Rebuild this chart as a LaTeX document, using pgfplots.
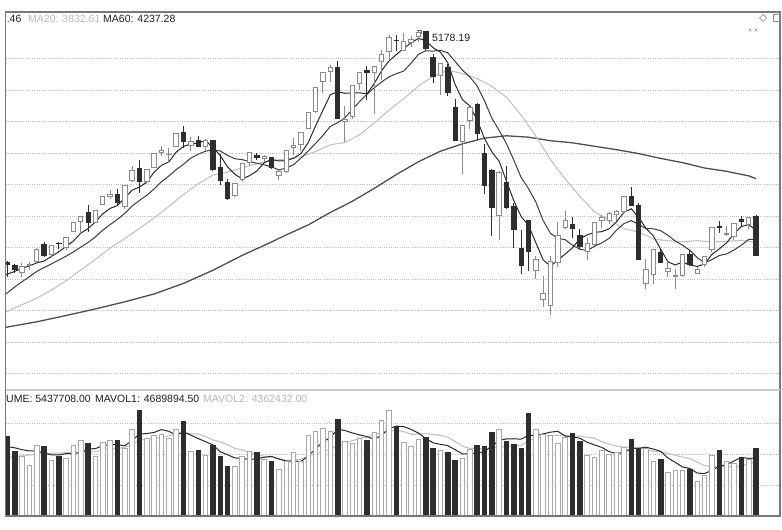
\documentclass[border=0pt]{standalone}
\usepackage{pgfplots}
\pgfplotsset{compat=1.18}
\usepackage{pgfplotstable}
\usepackage{fontspec}
\setmainfont{Liberation Sans}
\definecolor{upc}{HTML}{8A8A8A}
\definecolor{upv}{HTML}{A8A8A8}
\definecolor{dnc}{HTML}{2E2E2E}
\definecolor{mafive}{HTML}{2A2A2A}
\definecolor{maten}{HTML}{3C3C3C}
\definecolor{matwenty}{HTML}{C2C2C2}
\definecolor{masixty}{HTML}{4E4E4E}
\definecolor{gridc}{HTML}{BDBDBD}
\definecolor{framec}{HTML}{777777}
\definecolor{txtlight}{HTML}{B8B8B8}
\pgfdeclareplotmark{nothing}{}

% Daily candles: index, open, high, low, close
\pgfplotstableread{
i O H L C
0 3705 3712 3612 3691
1 3687 3694 3635 3661
2 3642 3700 3614 3682
3 3686 3710 3656 3691
4 3710 3795 3710 3786
5 3822 3835 3742 3748
6 3755 3817 3735 3810
7 3827 3835 3790 3825
8 3803 3864 3784 3863
9 3900 3961 3898 3961
10 3964 4000 3900 3994
11 4026 4069 3900 3957
12 3956 4034 3953 4034
13 4072 4128 4072 4121
14 4125 4168 4106 4135
15 4135 4174 4069 4084
16 4063 4195 4046 4194
17 4226 4317 4214 4287
18 4301 4356 4146 4217
19 4220 4294 4206 4293
20 4307 4398 4307 4398
21 4403 4444 4382 4414
22 4391 4432 4338 4393
23 4441 4529 4441 4527
24 4528 4572 4432 4476
25 4448 4500 4413 4476
26 4483 4507 4436 4441
27 4441 4488 4410 4480
28 4479 4480 4286 4298
29 4311 4391 4197 4229
30 4211 4233 4099 4112
31 4129 4206 4118 4205
32 4230 4333 4217 4333
33 4340 4402 4317 4401
34 4388 4402 4355 4375
35 4363 4389 4342 4378
36 4371 4375 4299 4308
37 4255 4300 4231 4283
38 4285 4417 4275 4417
39 4433 4496 4389 4446
40 4456 4530 4412 4530
41 4558 4658 4552 4657
42 4661 4814 4656 4813
43 4854 4911 4779 4910
44 4917 4958 4850 4941
45 4943 4986 4617 4620
46 4603 4698 4469 4611
47 4633 4829 4615 4828
48 4844 4911 4797 4910
49 4924 4951 4738 4910
50 4912 4947 4647 4947
51 4982 5051 4865 5023
52 5045 5146 4992 5131
53 5115 5147 5049 5113
54 5050 5164 5050 5106
55 5101 5143 5074 5121
56 5143 5178 5103 5166
57 5174 5177 5048 5062
58 5005 5030 4842 4887
59 4890 4968 4767 4967
60 4942 4966 4759 4785
61 4690 4744 4476 4478
62 4471 4577 4264 4576
63 4604 4691 4552 4690
64 4711 4720 4483 4527
65 4399 4456 4139 4193
66 4289 4297 3875 4053
67 4006 4287 3848 4277
68 4214 4317 4043 4053
69 4058 4081 3795 3912
70 3793 3908 3629 3687
71 3975 3975 3653 3776
72 3654 3749 3603 3727
73 3467 3622 3421 3507
74 3432 3748 3373 3710
75 3707 3959 3677 3877
76 3925 4031 3915 3970
77 3950 3993 3862 3924
78 3875 3915 3782 3805
79 3776 3858 3720 3823
80 3819 3963 3812 3958
81 3973 4007 3921 3992
82 3974 4025 3948 4017
83 4007 4039 3971 4026
84 4027 4125 4019 4124
85 4124 4184 4070 4070
86 4070 4085 3724 3725
87 3574 3724 3537 3663
88 3631 3789 3568 3789
89 3770 3790 3704 3705
90 3650 3715 3613 3664
91 3614 3666 3538 3623
92 3621 3757 3613 3756
93 3756 3783 3683 3695
94 3637 3678 3631 3661
95 3692 3746 3675 3744
96 3786 3928 3770 3928
97 3933 3970 3892 3928
98 3880 3938 3870 3887
99 3873 3955 3850 3955
100 3977 4002 3939 3965
101 3947 3994 3916 3993
102 3999 4006 3743 3748
}\ohlc

\pgfplotstableread{
i v
-0.3 3626
0 3631.0
1 3647.8
2 3667.8
3 3682.6
4 3702.2
5 3713.6
6 3743.4
7 3772.0
8 3806.4
9 3841.4
10 3890.6
11 3920.0
12 3961.8
13 4013.4
14 4048.2
15 4066.2
16 4113.6
17 4164.2
18 4183.4
19 4215.0
20 4277.8
21 4321.8
22 4343.0
23 4405.0
24 4441.6
25 4457.2
26 4462.6
27 4480.0
28 4434.2
29 4384.8
30 4312.0
31 4264.8
32 4235.4
33 4256.0
34 4285.2
35 4338.4
36 4359.0
37 4349.0
38 4352.2
39 4366.4
40 4396.8
41 4466.6
42 4572.6
43 4671.2
44 4770.2
45 4788.2
46 4779.0
47 4782.0
48 4782.0
49 4775.8
50 4841.2
51 4923.6
52 4984.2
53 5024.8
54 5064.0
55 5098.8
56 5127.4
57 5113.6
58 5068.4
59 5040.6
60 4973.4
61 4835.8
62 4738.6
63 4699.2
64 4611.2
65 4492.8
66 4407.8
67 4348.0
68 4220.6
69 4097.6
70 3996.4
71 3941.0
72 3831.0
73 3721.8
74 3681.4
75 3719.4
76 3758.2
77 3797.6
78 3857.2
79 3879.8
80 3896.0
81 3900.4
82 3919.0
83 3963.2
84 4023.4
85 4045.8
86 3992.4
87 3921.6
88 3874.2
89 3790.4
90 3709.2
91 3688.8
92 3707.4
93 3688.6
94 3679.8
95 3695.8
96 3756.8
97 3791.2
98 3829.6
99 3888.4
100 3932.6
101 3945.6
102 3909.6
}\mafivetab

\pgfplotstableread{
i v
-0.3 3501
0 3512.0
1 3549.0
2 3582.3
3 3614.1
4 3647.8
5 3672.3
6 3695.6
7 3719.9
8 3744.5
9 3771.8
10 3802.1
11 3831.7
12 3866.9
13 3909.9
14 3944.8
15 3978.4
16 4016.8
17 4063.0
18 4098.4
19 4131.6
20 4172.0
21 4217.7
22 4253.6
23 4294.2
24 4328.3
25 4367.5
26 4392.2
27 4411.5
28 4419.6
29 4413.2
30 4384.6
31 4363.7
32 4357.7
33 4345.1
34 4335.0
35 4325.2
36 4311.9
37 4292.2
38 4304.1
39 4325.8
40 4367.6
41 4412.8
42 4460.8
43 4511.7
44 4568.3
45 4592.5
46 4622.8
47 4677.3
48 4726.6
49 4773.0
50 4814.7
51 4851.3
52 4883.1
53 4903.4
54 4919.9
55 4970.0
56 5025.5
57 5048.9
58 5046.6
59 5052.3
60 5036.1
61 4981.6
62 4926.1
63 4883.8
64 4825.9
65 4733.1
66 4621.8
67 4543.3
68 4459.9
69 4354.4
70 4244.6
71 4174.4
72 4089.5
73 3971.2
74 3889.5
75 3857.9
76 3849.6
77 3814.3
78 3789.5
79 3780.6
80 3807.7
81 3829.3
82 3858.3
83 3910.2
84 3951.6
85 3970.9
86 3946.4
87 3920.3
88 3918.7
89 3906.9
90 3877.5
91 3840.6
92 3814.5
93 3781.4
94 3735.1
95 3702.5
96 3722.8
97 3749.3
98 3759.1
99 3784.1
100 3814.2
101 3851.2
102 3850.4
}\matentab

\pgfplotstableread{
i v
-0.3 3388
0 3394.6
2 3436.4
4 3478.0
6 3528.8
8 3588.7
10 3657.1
12 3724.6
14 3796.3
16 3856.2
18 3921.5
20 3987.1
22 4060.3
24 4136.6
26 4204.5
28 4259.0
30 4278.3
32 4305.7
34 4331.7
36 4352.1
38 4361.9
40 4376.1
42 4409.3
44 4451.7
46 4467.4
48 4515.4
50 4591.2
52 4672.0
54 4744.1
56 4824.2
58 4886.6
60 4925.4
62 4904.6
64 4872.9
66 4823.7
68 4753.3
70 4640.4
72 4507.8
74 4357.7
76 4235.7
78 4124.7
80 4026.2
82 3973.9
84 3920.6
86 3898.0
88 3854.1
90 3842.6
92 3836.4
94 3843.4
96 3834.6
98 3838.9
100 3845.9
102 3832.5
}\matwentytab

\pgfplotstableread{
i v
-0.3 3292
0 3295
4 3328
8 3368
12 3410
16 3455
20 3505
24 3572
28 3655
32 3750
36 3835
38 3880
41 3943.4
44 4022.1
47 4093.2
50 4175.5
53 4263.1
56 4344.1
59 4411.3
62 4458.0
65 4494.5
68 4509.2
71 4500.3
74 4477.8
77 4464.6
80 4442.6
83 4420.9
86 4396.3
89 4365.5
92 4338.7
95 4304.5
98 4283.4
101 4254.7
102 4237.0
}\masixtytab

% Volume (millions), d = 1 for a falling day
\pgfplotstableread{
i V d
0 6.40 1
1 5.19 1
2 4.84 0
3 4.11 0
4 5.65 0
5 5.59 1
6 4.46 0
7 4.78 1
8 4.65 0
9 5.65 0
10 6.13 0
11 5.86 1
12 4.84 0
13 5.91 0
14 6.08 0
15 6.08 1
16 5.46 0
17 6.94 0
18 8.49 1
19 6.26 0
20 6.53 0
21 6.61 0
22 6.26 0
23 6.94 0
24 7.61 1
25 5.19 0
26 5.27 1
27 4.92 0
28 5.73 1
29 4.78 1
30 3.98 1
31 3.98 0
32 4.84 0
33 5.19 0
34 5.11 1
35 4.52 0
36 4.38 1
37 3.76 0
38 4.38 0
39 5.11 0
40 4.38 0
41 6.53 0
42 6.80 0
43 7.07 0
44 6.80 0
45 7.80 1
46 5.99 0
47 5.86 0
48 6.26 0
49 6.08 1
50 6.72 0
51 7.69 0
52 8.49 0
53 7.26 1
54 5.91 0
55 5.59 0
56 6.18 0
57 6.34 1
58 5.46 1
59 5.32 0
60 5.11 1
61 4.52 1
62 4.65 0
63 5.38 0
64 5.73 1
65 5.65 1
66 6.72 1
67 6.99 0
68 5.99 1
69 5.81 1
70 5.46 1
71 8.28 1
72 6.94 0
73 6.61 0
74 6.53 0
75 5.81 0
76 6.34 0
77 6.67 1
78 6.00 1
79 4.92 0
80 4.73 0
81 5.32 0
82 5.00 0
83 5.11 0
84 5.54 0
85 6.18 1
86 5.46 1
87 5.46 0
88 4.38 0
89 4.60 1
90 3.49 0
91 3.65 0
92 3.65 0
93 3.76 1
94 2.77 0
95 3.31 0
96 4.92 0
97 5.32 1
98 4.38 0
99 4.25 0
100 4.73 1
101 4.57 0
102 5.44 1
}\voltab

\pgfplotstableread{
i v
-0.3 5.60
0 5.60
1 5.50
2 5.35
3 5.25
4 5.24
5 5.08
6 4.93
7 4.92
8 5.03
9 5.03
10 5.13
11 5.41
12 5.43
13 5.68
14 5.76
15 5.75
16 5.67
17 6.09
18 6.61
19 6.65
20 6.74
21 6.97
22 6.83
23 6.52
24 6.79
25 6.52
26 6.25
27 5.99
28 5.74
29 5.18
30 4.94
31 4.68
32 4.66
33 4.55
34 4.62
35 4.73
36 4.81
37 4.59
38 4.43
39 4.43
40 4.40
41 4.83
42 5.44
43 5.98
44 6.32
45 7.00
46 6.89
47 6.70
48 6.54
49 6.40
50 6.18
51 6.52
52 7.05
53 7.25
54 7.21
55 6.99
56 6.69
57 6.26
58 5.90
59 5.78
60 5.68
61 5.35
62 5.01
63 5.00
64 5.08
65 5.19
66 5.63
67 6.09
68 6.22
69 6.23
70 6.19
71 6.51
72 6.50
73 6.62
74 6.76
75 6.83
76 6.45
77 6.39
78 6.27
79 5.95
80 5.73
81 5.53
82 5.19
83 5.02
84 5.14
85 5.43
86 5.46
87 5.55
88 5.40
89 5.22
90 4.68
91 4.32
92 3.95
93 3.83
94 3.46
95 3.43
96 3.68
97 4.02
98 4.14
99 4.44
100 4.72
101 4.65
102 4.67
}\mavolone

\pgfplotstableread{
i v
-0.3 4.68
0 4.70
2 4.85
4 4.98
6 5.05
8 5.10
9 5.13
10 5.11
11 5.17
12 5.17
13 5.35
14 5.40
15 5.44
16 5.54
17 5.76
18 6.14
19 6.21
20 6.25
21 6.32
22 6.46
23 6.57
24 6.72
25 6.63
26 6.61
27 6.41
28 6.13
29 5.98
30 5.73
31 5.47
32 5.32
33 5.15
34 4.90
35 4.83
36 4.74
37 4.63
38 4.49
39 4.53
40 4.57
41 4.82
42 5.02
43 5.20
44 5.37
45 5.70
46 5.86
47 6.07
48 6.26
49 6.36
50 6.59
51 6.71
52 6.88
53 6.90
54 6.81
55 6.59
56 6.60
57 6.65
58 6.57
59 6.50
60 6.34
61 6.02
62 5.63
63 5.45
64 5.43
65 5.43
66 5.49
67 5.55
68 5.61
69 5.66
70 5.69
71 6.07
72 6.30
73 6.42
74 6.50
75 6.51
76 6.48
77 6.44
78 6.45
79 6.36
80 6.28
81 5.99
82 5.79
83 5.64
84 5.54
85 5.58
86 5.49
87 5.37
88 5.21
89 5.18
90 5.05
91 4.89
92 4.75
93 4.62
94 4.34
95 4.05
96 4.00
97 3.99
98 3.99
99 3.95
100 4.07
101 4.17
102 4.35
}\mavoltwo

\pgfplotsset{
  panel/.style={
    scale only axis, anchor=south west,
    xmin=-0.22, xmax=105.27,
    xtick=\empty, yticklabels={}, major tick length=0pt,
    ytick style={draw=none},
    ymajorgrids, major grid style={gridc, line width=0.6bp, dash pattern=on 0.7bp off 1.5bp},
    axis line style={draw=none},
    clip=true,
  },
  candle/.style={
    only marks, mark=nothing, scatter,
    visualization depends on={\thisrow{O}-\thisrow{C} \as \dO},
    visualization depends on={\thisrow{H}-\thisrow{C} \as \dH},
    visualization depends on={\thisrow{L}-\thisrow{C} \as \dL},
    scatter/@pre marker code/.code={%
      \ifdim\dO pt>0pt
        \draw[dnc, line width=1bp] (axis direction cs:0,\dH) -- (axis direction cs:0,\dL);
        \filldraw[draw=dnc, fill=dnc, line width=0.7bp] (axis direction cs:-0.3,\dO) rectangle (axis direction cs:0.3,0);
      \else
        \draw[upc, line width=1bp] (axis direction cs:0,\dH) -- (axis direction cs:0,\dL);
        \filldraw[draw=upc, fill=white, line width=0.9bp] (axis direction cs:-0.3,\dO) rectangle (axis direction cs:0.3,0);
      \fi
    },
    scatter/@post marker code/.code={},
  },
  volbar/.style={
    only marks, mark=nothing, scatter,
    visualization depends on={\thisrow{V} \as \vV},
    visualization depends on={\thisrow{d} \as \vd},
    scatter/@pre marker code/.code={%
      \ifdim\vd pt>0.5pt
        \filldraw[draw=dnc, fill=dnc, line width=0.7bp] (axis direction cs:-0.31,-\vV) rectangle (axis direction cs:0.31,0);
      \else
        \filldraw[draw=upv, fill=white, line width=0.9bp] (axis direction cs:-0.31,-\vV) rectangle (axis direction cs:0.31,0);
      \fi
    },
    scatter/@post marker code/.code={},
  },
}

\begin{document}
\begin{tikzpicture}[x=1bp,y=1bp]
\path[use as bounding box] (0,0) rectangle (782,530);

% price panel
\begin{axis}[panel, at={(5.7bp,140bp)}, width=774.3bp, height=378bp,
  ymin=2895.2, ymax=5295.2, ytick={3000,3200,...,5000}]
  \addplot[masixty, line width=1.3bp, no marks] table[x=i,y=v] {\masixtytab};
  \addplot[matwenty, line width=1.1bp, no marks] table[x=i,y=v] {\matwentytab};
  \addplot[maten, line width=1bp, no marks] table[x=i,y=v] {\matentab};
  \addplot[mafive, line width=1bp, no marks] table[x=i,y=v] {\mafivetab};
  \addplot[candle] table[x=i,y=C] {\ohlc};
\end{axis}

% volume panel
\begin{axis}[panel, at={(5.7bp,14bp)}, width=774.3bp, height=126bp,
  ymin=0, ymax=10.161, ytick={2.5,5,7.5}]
  \addplot[volbar] table[x=i,y=V] {\voltab};
  \addplot[matwenty, line width=1.1bp, no marks] table[x=i,y=v] {\mavoltwo};
  \addplot[mafive, line width=1bp, no marks] table[x=i,y=v] {\mavolone};
\end{axis}

% frame
\draw[framec, line width=1.3bp] (5.7,14) -- (5.7,518) -- (780,518) -- (780,14) -- cycle;
\draw[black!20, line width=2bp] (5.7,140) -- (780,140);

% texts
\begin{scope}[every node/.style={anchor=base west, inner sep=0pt, font=\fontsize{10.5bp}{12bp}\selectfont}]
  \node[text=black!88] at (6.6,507.3) {.46};
  \node[text=txtlight] at (28,507.3) {MA20: 3832.61};
  \node[text=black!88] at (103,507.3) {MA60: 4237.28};
  \node[text=black!88] at (6,127.3) {UME: 5437708.00};
  \node[text=black!88] at (95,127.3) {MAVOL1: 4689894.50};
  \node[text=txtlight] at (203,127.3) {MAVOL2: 4362432.00};
  \node[text=black!88] at (432,488.3) {5178.19};
\end{scope}
\draw[black!60, line width=0.7bp] (417,500) -- (421,500) -- (421,496);

% top-right icons
\draw[black!45, line width=0.7bp] (759.5,512) -- (763,515.5) -- (766.5,512) -- (763,508.5) -- cycle;
\draw[black!45, line width=0.7bp] (773.5,508.5) rectangle (780,515.5);
\draw[black!35, line width=0.6bp] (748.5,498.5) -- (751.5,501.5) (748.5,501.5) -- (751.5,498.5)
  (754.5,498.5) -- (757.5,501.5) (754.5,501.5) -- (757.5,498.5);
\end{tikzpicture}
\end{document}
